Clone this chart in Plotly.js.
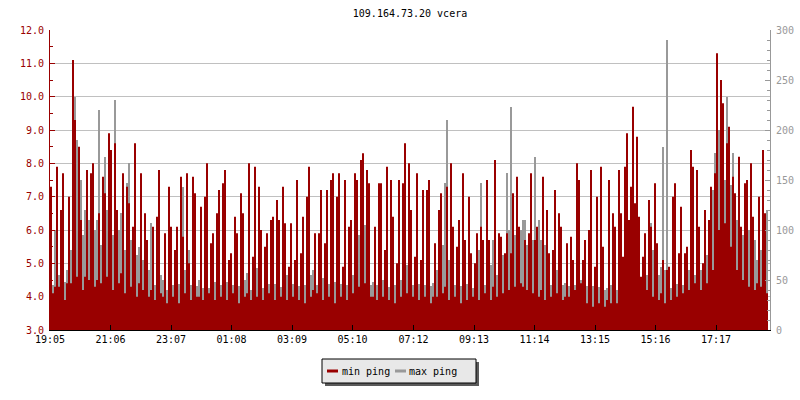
<!DOCTYPE html>
<html>
<head>
<meta charset="utf-8">
<script src="https://cdn.plot.ly/plotly-3.0.1.min.js"></script>
<style>html,body{margin:0;padding:0;background:#fff;}#chart{width:800px;height:400px;}</style>
</head>
<body>
<div id="chart"></div>
<script>
// ---- data ----
const chartTitle = '109.164.73.20 vcera';
const seriesNames = ['min ping', 'max ping'];
const startLabel = '19:05';
const sampleMinutes = 4;
const tickLabels = ['19:05','21:06','23:07','01:08','03:09','05:10','07:12','09:13','11:14','13:15','15:16','17:17'];

// min ping (ms, left axis)
const minPing = [
 7.3,4.1,4.3, 7.9,4.3,6.6, 7.7,3.9,4.4, 7.0,4.4,11.1, 9.3,4.6,8.5, 6.3,4.2,4.6, 7.8,4.5,7.7, 8.0,4.3,4.5, 6.5,4.4,7.6, 7.1,4.6,8.9,
 8.4,4.2,8.6, 6.6,4.4,4.7, 7.7,4.1,7.3, 6.8,4.3,6.1, 8.6,4.0,4.4, 7.7,4.2,6.5, 5.7,4.0,4.2, 6.1,3.9,6.4, 7.8,4.1,4.0, 5.9,3.8,7.3,
 6.1,4.0,5.4, 6.1,3.8,7.6, 5.8,4.1,7.7, 5.0,3.9,7.6, 7.1,4.0,4.0, 6.7,3.9,7.0, 8.0,4.1,5.6, 5.9,3.9,6.5, 7.2,4.0,7.4, 7.8,3.9,5.1,
 5.3,4.1,6.4, 5.9,3.8,7.1, 6.5,4.0,4.1, 8.0,3.9,5.2, 7.9,4.0,7.3, 6.0,3.9,5.5, 5.9,4.1,6.3, 6.4,3.9,6.9, 6.3,4.0,7.3, 6.2,3.9,4.9,
 6.2,4.0,5.1, 7.5,3.9,5.3, 6.4,3.8,7.0, 7.9,4.0,4.2, 5.9,4.1,5.9, 7.2,3.9,5.6, 7.2,4.0,7.5, 7.7,3.8,7.0, 7.7,4.0,4.9, 7.5,3.9,6.1,
 6.3,4.1,7.7, 7.5,4.3,8.1, 8.3,4.4,7.8, 7.4,4.0,4.0, 6.1,3.9,7.4, 7.4,4.0,5.4, 7.9,3.9,7.5, 6.4,3.8,5.0, 7.5,4.0,7.4, 8.6,4.1,8.0,
 6.6,4.0,5.2, 7.7,3.9,5.1, 7.2,4.0,7.2, 7.5,3.8,4.0, 5.6,4.0,6.6, 7.1,4.1,4.3, 7.3,3.9,8.0, 6.1,4.0,5.5, 6.3,3.8,7.7, 5.7,3.9,7.0,
 5.3,4.0,5.0, 5.9,3.9,6.1, 5.7,4.1,7.5, 5.7,3.9,4.3, 8.1,4.0,5.9, 5.8,4.1,5.3, 5.9,4.2,5.3, 7.1,4.3,7.6, 6.1,4.4,4.3, 5.7,4.2,5.9,
 7.7,4.1,5.7, 6.1,4.0,4.2, 7.6,3.9,6.6, 5.3,4.0,5.4, 7.2,4.1,6.5, 6.1,3.9,4.0, 5.6,4.0,5.8, 5.1,4.2,8.0, 7.5,4.4,5.1, 5.7,3.8,6.0,
 7.8,3.7,4.9, 7.0,3.8,7.9, 5.5,3.7,3.9, 7.5,3.8,6.5, 6.1,3.8,7.8, 6.5,5.2,7.9, 8.9,6.3,7.3, 9.7,6.8,8.8, 6.4,4.6,5.2, 5.9,4.2,6.9,
 6.1,4.0,7.4, 5.6,3.9,4.1, 5.1,3.8,4.8, 4.9,3.9,7.0, 7.4,4.0,5.3, 6.7,4.1,5.3, 5.5,4.2,8.4, 7.9,4.4,7.8, 6.1,4.2,5.0, 6.6,4.4,6.3,
 7.3,4.8,7.7, 11.3,6.0,10.5, 9.8,6.2,8.6, 9.1,5.5,7.6, 7.1,4.8,8.2, 6.1,4.5,7.4, 7.5,4.3,8.0, 6.4,4.2,4.4, 7.0,4.3,8.4, 6.5,4.1,6.1
];

// max ping (ms, right axis)
const maxPing = [
 36,45,100, 63,55,70, 73,48,60, 60,80,150, 233,190,130, 150,95,120, 90,110,107, 150,100,110, 220,85,103, 173,120,157,
 110,95,230, 83,100,117, 103,80,147, 167,90,70, 87,75,83, 107,70,77, 53,60,107, 50,45,53, 43,55,50, 53,40,30,
 45,45,48, 43,46,57, 143,60,90, 80,45,43, 43,44,50, 40,42,33, 37,42,60, 53,48,73, 43,45,37, 43,48,47,
 40,45,53, 57,44,33, 43,50,57, 97,40,35, 57,62,67, 37,42,52, 50,46,37, 40,46,50, 37,43,35, 50,55,60,
 50,46,37, 40,44,48, 33,45,87, 50,55,60, 73,45,50, 40,52,57, 67,46,43, 40,48,60, 37,46,50, 37,45,40,
 43,55,63, 110,95,83, 127,105,90, 70,45,48, 37,45,40, 43,50,60, 40,43,37, 33,45,50, 40,50,57, 53,65,77,
 50,45,60, 37,46,40, 43,45,37, 40,44,47, 53,60,70, 127,85,147, 210,70,90, 40,45,48, 40,44,33, 30,46,37,
 33,42,50, 63,80,147, 37,45,40, 50,65,90, 70,55,57, 63,75,70, 157,100,223, 70,95,113, 90,100,110, 110,85,77,
 57,90,173, 103,110,90, 70,85,97, 53,45,50, 50,60,77, 50,45,47, 43,44,33, 37,45,43, 70,50,48, 30,44,37,
 33,44,47, 37,43,33, 37,40,42, 37,45,50, 30,40,27, 33,36,30, 33,40,30, 37,50,57, 30,35,45, 60,55,50,
 107,80,70, 50,55,63, 183,60,290, 33,42,30, 37,46,45, 50,45,37, 50,60,57, 63,55,40, 70,60,55, 60,75,97,
 117,140,177, 167,200,233, 203,150,233, 160,145,177, 130,110,157, 90,95,103, 133,100,103, 83,90,70, 97,80,77, 103,120,203
];

// ---- derived ----
function toMin(s){ const p = s.split(':'); return (+p[0])*60 + (+p[1]); }
const t0 = toMin(startLabel);
const tickMinutes = tickLabels.map(l => ((toMin(l) - t0) + 1440) % 1440);
const times = minPing.map((_, i) => i * sampleMinutes);

const RED = '#990000', GRAY = '#999999';
const FONT = 'DejaVu Sans Mono, Liberation Mono, monospace';

// pixel -> paper helpers (plot area 50..770 x 30..330)
const PL = 50, PR = 770, PT = 30, PB = 330;
const px = x => (x - PL) / (PR - PL);
const py = y => (PB - y) / (PB - PT);

const traces = [
  { x: times, y: maxPing, name: seriesNames[1], type: 'scatter', mode: 'lines',
    line: { shape: 'hv', color: GRAY, width: 0 }, fill: 'tozeroy', fillcolor: GRAY,
    yaxis: 'y', showlegend: false, hoverinfo: 'skip' },
  { x: times, y: minPing, name: seriesNames[0], type: 'scatter', mode: 'lines',
    line: { shape: 'hv', color: RED, width: 0 }, fill: 'tozeroy', fillcolor: RED,
    yaxis: 'y2', showlegend: false, hoverinfo: 'skip' }
];

const layout = {
  width: 800, height: 400,
  margin: { l: PL, r: 800 - PR, t: PT, b: 400 - PB, pad: 0 },
  paper_bgcolor: '#ffffff', plot_bgcolor: '#ffffff',
  showlegend: false,
  font: { family: FONT, size: 10, color: '#000' },
  title: { text: chartTitle, font: { family: FONT, size: 10, color: '#000' },
           x: 0.5, xref: 'paper', xanchor: 'center', y: 1 - 13/400, yref: 'container', yanchor: 'middle' },
  xaxis: {
    range: [0, 1440], tickvals: tickMinutes, ticktext: tickLabels,
    showgrid: false, zeroline: false, showline: true, linecolor: '#000', linewidth: 1,
    ticks: 'inside', ticklen: 5, tickcolor: '#000', tickwidth: 1,
    tickfont: { family: FONT, size: 10, color: '#000' }, fixedrange: true
  },
  yaxis: {
    range: [0, 300], side: 'right', dtick: 50, tick0: 0,
    showgrid: false, zeroline: false, showline: true, linecolor: GRAY, linewidth: 1,
    ticks: 'inside', ticklen: 5, tickcolor: GRAY,
    minor: { dtick: 10, ticks: 'inside', ticklen: 3, tickcolor: GRAY, showgrid: false },
    tickfont: { family: FONT, size: 10, color: GRAY }, ticklabelstandoff: 3, fixedrange: true
  },
  yaxis2: {
    range: [3, 12], overlaying: 'y', side: 'left', dtick: 1, tick0: 3, tickformat: '.1f',
    showgrid: true, gridcolor: '#c0c0c0', gridwidth: 1, zeroline: false,
    showline: true, linecolor: RED, linewidth: 1,
    ticks: 'inside', ticklen: 5, tickcolor: RED,
    minor: { dtick: 0.5, ticks: 'inside', ticklen: 3, tickcolor: RED, showgrid: false },
    tickfont: { family: FONT, size: 10, color: RED }, ticklabelstandoff: 3, fixedrange: true
  },
  shapes: [
    { type: 'rect', xref: 'paper', yref: 'paper', x0: px(325), x1: px(479), y0: py(386), y1: py(362),
      fillcolor: '#5a5a5a', line: { width: 0 }, layer: 'above' },
    { type: 'rect', xref: 'paper', yref: 'paper', x0: px(322), x1: px(476), y0: py(383), y1: py(359),
      fillcolor: '#e8e8e8', line: { color: '#000', width: 1 }, layer: 'above' },
    { type: 'line', xref: 'paper', yref: 'paper', x0: px(327), x1: px(338), y0: py(371), y1: py(371),
      line: { color: RED, width: 3 }, layer: 'above' },
    { type: 'line', xref: 'paper', yref: 'paper', x0: px(395), x1: px(406), y0: py(371), y1: py(371),
      line: { color: GRAY, width: 3 }, layer: 'above' }
  ],
  annotations: [
    { text: seriesNames[0], xref: 'paper', yref: 'paper', x: px(340), y: py(371), xanchor: 'left', yanchor: 'middle',
      showarrow: false, font: { family: FONT, size: 10, color: '#000' } },
    { text: seriesNames[1], xref: 'paper', yref: 'paper', x: px(407), y: py(371), xanchor: 'left', yanchor: 'middle',
      showarrow: false, font: { family: FONT, size: 10, color: '#000' } }
  ]
};

Plotly.newPlot('chart', traces, layout, { staticPlot: true, displayModeBar: false });
</script>
</body>
</html>
